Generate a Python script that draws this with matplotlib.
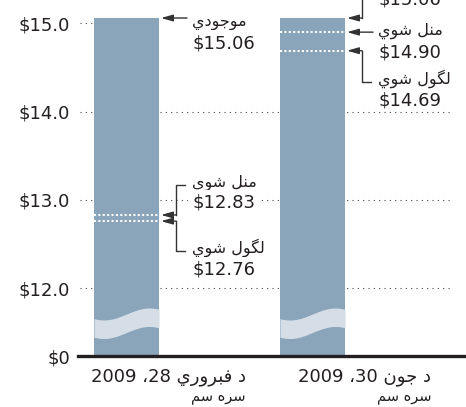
import re
import numpy as np
import matplotlib
matplotlib.use('Agg')
import matplotlib.pyplot as plt

# data
dates = ['د فبروري 28، 2009', 'د جون 30، 2009']
date_note = 'سره سم'
current = [15.06, 15.06]
approved = [12.83, 14.90]
estimated = [12.76, 14.69]
tick_values = [12.0, 13.0, 14.0, 15.0]
tick_labels = ['$12.0', '$13.0', '$14.0', '$15.0']
lbl_current = 'موجودي'
lbl_approved = 'منل شوي'
lbl_estimated = 'لگول شوي'

BREAK = 11.233          # where $0 sits on the broken axis
BAR = '#8aa4ba'
WAVE = '#d5dee7'
INK = '#231f20'
plt.rcParams['font.family'] = ['DejaVu Sans']

# --- minimal arabic shaping (matplotlib has no text shaping) ---
FORMS = {
    'ب': '\ufe8f\ufe90\ufe91\ufe92', 'ج': '\ufe9d\ufe9e\ufe9f\ufea0',
    'د': '\ufea9\ufeaa', 'ر': '\ufead\ufeae',
    'س': '\ufeb1\ufeb2\ufeb3\ufeb4', 'ش': '\ufeb5\ufeb6\ufeb7\ufeb8',
    'ف': '\ufed1\ufed2\ufed3\ufed4', 'ل': '\ufedd\ufede\ufedf\ufee0',
    'م': '\ufee1\ufee2\ufee3\ufee4', 'ن': '\ufee5\ufee6\ufee7\ufee8',
    'ه': '\ufee9\ufeea\ufeeb\ufeec', 'و': '\ufeed\ufeee',
    'ي': '\ufef1\ufef2\ufef3\ufef4', 'گ': '\ufb92\ufb93\ufb94\ufb95',
}
AR = re.compile(r'[\u0621-\u06ff]')


def shape_word(w):
    res = []
    for i, c in enumerate(w):
        f = FORMS[c]
        pj = i > 0 and len(FORMS[w[i - 1]]) == 4
        nj = i < len(w) - 1 and len(f) == 4
        if pj and nj:
            res.append(f[3])
        elif pj:
            res.append(f[1])
        elif nj:
            res.append(f[2])
        else:
            res.append(f[0])
    return ''.join(reversed(res))


def shape(text):
    toks = re.findall(r'[\u0621-\u06ff]+|\s+|،|[^\s\u0621-\u06ff،]+', text)
    if not any(AR.match(t) for t in toks):
        return text
    return ''.join(shape_word(t) if AR.match(t) else t for t in reversed(toks))


fig = plt.figure(figsize=(4.66, 4.07), dpi=100)
ax = fig.add_axes([78 / 466, 51 / 407, 388 / 466, 356 / 407])
x = np.arange(len(dates))
W = 0.35
ax.set_xlim(-0.2608, 1.8253)
ax.set_ylim(BREAK, 15.264)
for s in ax.spines.values():
    s.set_visible(False)
ax.set_xticks([])
ax.set_yticks([BREAK] + tick_values)
ax.set_yticklabels(['$0'] + tick_labels, fontsize=13, color=INK)
ax.tick_params(axis='y', length=0, pad=5.8)


def pt(xd, yd, dx=0, dy=0):
    # data point moved dx px right and dy px down
    px, py = ax.transData.transform((xd, yd))
    return ax.transData.inverted().transform((px + dx, py - dy))


# dotted grid
gl, gr = -0.25, 1.75
ax.hlines(tick_values[:-1], gl, gr, colors='#444444', linestyles=(0, (1, 3.8)), lw=0.8, zorder=1)
ax.hlines(tick_values[-1], gl, x[0] - W / 2, colors='#444444', linestyles=(0, (1, 3.8)), lw=0.8, zorder=1)

ax.bar(x, np.array(current) - BREAK, W, bottom=BREAK, color=BAR, zorder=2)
for i in x:
    ax.hlines([approved[i], estimated[i]], x[i] - W / 2, x[i] + W / 2, colors='white',
              linestyles=(0, (1, 1.1)), lw=1.5, zorder=3)
    # axis break wave
    t = np.linspace(0, 1, 60)
    top = 314 + 6 * np.sin(np.pi * (t - 0.15) / 0.7 + np.pi / 2)
    xs = x[i] - W / 2 + W * t
    ytop = [pt(x[i], BREAK, 0, -(356 - v))[1] for v in top]
    ybot = [pt(x[i], BREAK, 0, -(356 - v - 18.5))[1] for v in top]
    ax.fill_between(xs, ybot, ytop, color=WAVE, lw=0, zorder=3)

ax.axhline(BREAK, color=INK, lw=2.4, clip_on=False, zorder=4)

arrow_kw = dict(arrowstyle='-|>,head_length=0.7,head_width=0.2', color='#333333',
                lw=1, shrinkA=0, shrinkB=0)
line_kw = dict(color='#333333', lw=1, clip_on=False, zorder=4)
box = dict(boxstyle='square,pad=0.2', fc='white', ec='none')

# (value, label, kind, label line offsets in px)
notes = [
    [(current[0], lbl_current, 'straight', (4, 25)),
     (approved[0], lbl_approved, 'up', (-32, -12)),
     (estimated[0], lbl_estimated, 'down', (27, 48))],
    [(current[1], lbl_current, 'up', (-40, -19)),
     (approved[1], lbl_approved, 'straight', (-1, 20)),
     (estimated[1], lbl_estimated, 'down', (28, 50))],
]

for i in x:
    xr = x[i] + W / 2
    for v, lab, kind, (d1, d2) in notes[i]:
        tip = pt(xr, v, 2, 0)
        if kind == 'straight':
            ax.annotate('', xy=tip, xytext=pt(xr, v, 28, 0), arrowprops=arrow_kw,
                        annotation_clip=False)
        else:
            ax.annotate('', xy=tip, xytext=pt(xr, v, 17, 0), arrowprops=arrow_kw,
                        annotation_clip=False)
            ys = d1 + 2 if kind == 'up' else d1 + 3
            a, b, c = pt(xr, v, 17, 0), pt(xr, v, 17, ys), pt(xr, v, 26, ys)
            ax.plot([a[0], b[0], c[0]], [a[1], b[1], c[1]], **line_kw)
        bb = box if i == 0 else None
        ax.text(*pt(xr, v, 33, d1), shape(lab), fontsize=11.5, color=INK,
                ha='left', va='center', bbox=bb, clip_on=False, zorder=5)
        ax.text(*pt(xr, v, 33, d2), '$%.2f' % v, fontsize=13, color=INK,
                ha='left', va='center', bbox=bb, clip_on=False, zorder=5)

    ax.annotate(shape(dates[i]), xy=(x[i], BREAK), xytext=(119, -20.5),
                textcoords='offset pixels', ha='right', va='center', fontsize=13,
                color=INK, annotation_clip=False)
    ax.annotate(shape(date_note), xy=(x[i], BREAK), xytext=(119, -41),
                textcoords='offset pixels', ha='right', va='center', fontsize=10.5,
                color=INK, annotation_clip=False)

fig.savefig('out.png', dpi=100)
